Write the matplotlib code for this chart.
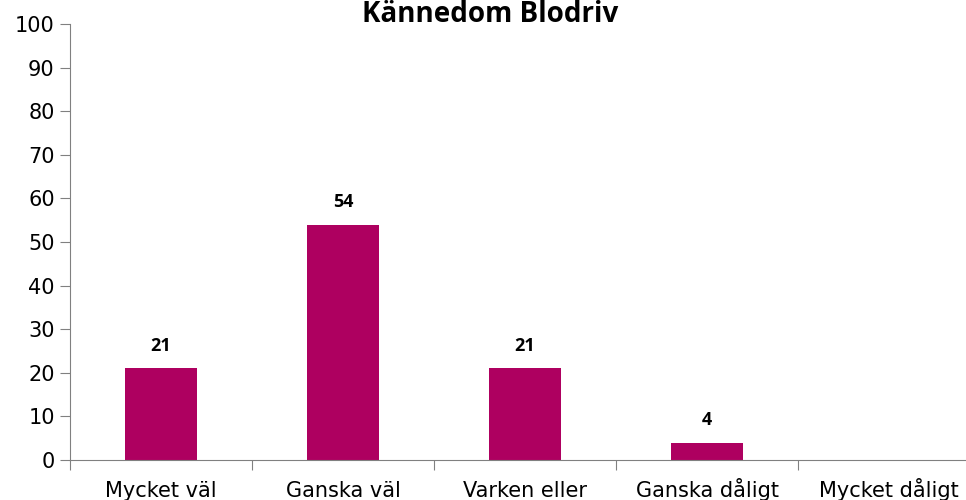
import matplotlib
matplotlib.use("Agg")
import matplotlib.pyplot as plt
import numpy as np

categories = ["Mycket väl", "Ganska väl", "Varken eller", "Ganska dåligt", "Mycket dåligt"]
values = [21, 54, 21, 4, 0]
labels = ["21", "54", "21", "4", ""]
title = "Kännedom Blodriv"

fig = plt.figure(figsize=(9.66, 5.0), dpi=100)
ax = fig.add_axes([70/966, 40/500, 910/966, 436/500])

x = np.arange(len(categories))
ax.bar(x, values, width=0.4, color="#AE0060", zorder=2)
for xi, v, lab in zip(x, values, labels):
    if lab:
        ax.annotate(lab, (xi, v), xytext=(0, 12.5), textcoords="offset points",
                    ha="center", va="baseline", fontsize=13, fontweight="bold",
                    family="Open Sans", color="black")

ax.set_xlim(-0.5, len(categories) - 0.5)
ax.set_ylim(0, 100)
ax.set_yticks(np.arange(0, 101, 10))
ax.set_xticks(np.arange(-0.5, len(categories), 1.0))
ax.set_xticklabels([])
ax.set_xticks(x, minor=True)
ax.set_xticklabels(categories, minor=True)
ax.tick_params(axis="x", which="major", length=7, direction="out", color="#808080")
ax.tick_params(axis="x", which="minor", length=0, pad=26.5, labelsize=15)
for t in ax.get_xticklabels(minor=True):
    t.set_va("baseline")
ax.tick_params(axis="y", length=7, direction="out", color="#808080", labelsize=15, pad=4)
for s in ["top", "right"]:
    ax.spines[s].set_visible(False)
for s in ["left", "bottom"]:
    ax.spines[s].set_color("#808080")

fig.text(490/966, 1 - 22/500, title, ha="center", va="baseline", fontsize=20,
         fontweight="bold", family="Open Sans")

fig.savefig("out.png", dpi=100)
